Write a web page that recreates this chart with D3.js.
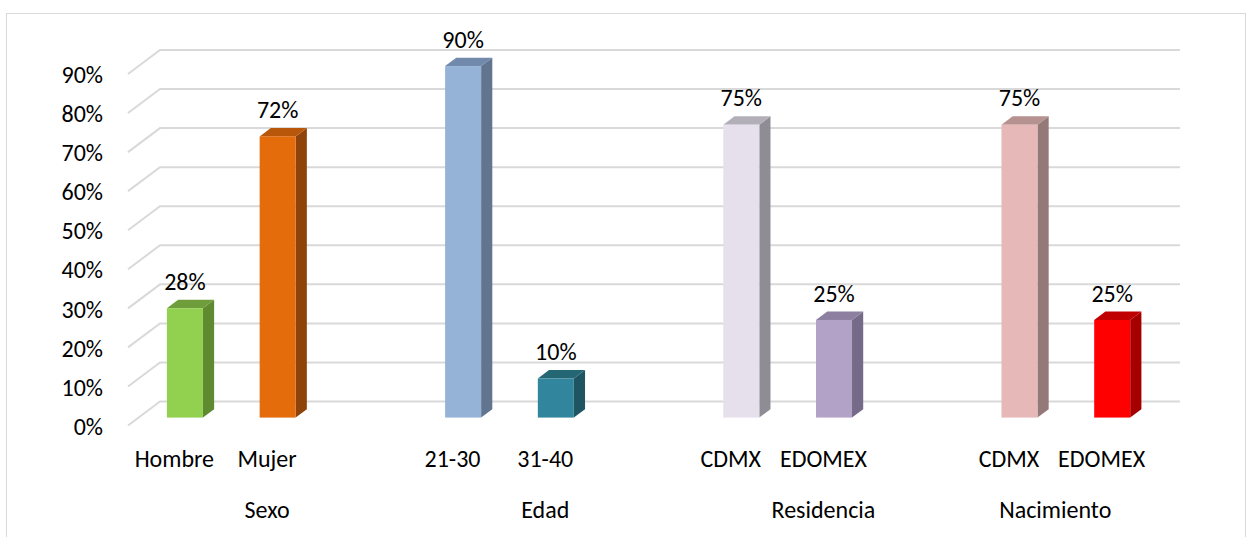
<!DOCTYPE html>
<html>
<head>
<meta charset="utf-8">
<script src="https://cdn.jsdelivr.net/npm/d3@7"></script>
<style>
  html, body { margin: 0; padding: 0; background: #ffffff; }
  svg { display: block; font-family: Carlito, Calibri, Lato, "Open Sans", sans-serif; }
</style>
</head>
<body>
<svg id="chart" width="1246" height="537"></svg>
<script>
// Survey breakdown by group (percent of respondents)
const groups = ["Sexo", "Edad", "Residencia", "Nacimiento"];
const categories = [
  ["Hombre", "Mujer"],
  ["21-30", "31-40"],
  ["CDMX", "EDOMEX"],
  ["CDMX", "EDOMEX"]
];
const values = [
  [28, 72],
  [90, 10],
  [75, 25],
  [75, 25]
];
const yTicks = [0, 10, 20, 30, 40, 50, 60, 70, 80, 90];

// Face colours per bar: [front, top, side]
const barColors = [
  [["#92d050", "#6f9d3b", "#5e8a30"], ["#e46c0a", "#b8570a", "#8f4309"]],
  [["#95b3d7", "#7189ab", "#617591"], ["#31859c", "#256675", "#1f5563"]],
  [["#e5e0ec", "#b3afb8", "#908c95"], ["#b3a2c7", "#8c7fa0", "#766a89"]],
  [["#e6b9b8", "#b59190", "#957978"], ["#ff0000", "#c00000", "#a50000"]]
];

const FONT_SIZE = 24;
const svg = d3.select("#chart");

// Outer chart frame
svg.append("rect")
  .attr("x", 6.5).attr("y", 13.5)
  .attr("width", 1239).attr("height", 540)
  .attr("fill", "none")
  .attr("stroke", "#d9d9d9")
  .attr("stroke-width", 1);

// Category slots: two bars per group, with an empty slot between groups
const slots = [];
groups.forEach((g, gi) => {
  categories[gi].forEach((c, ci) => slots.push(`${gi}-${ci}`));
  if (gi < groups.length - 1) slots.push(`${gi}-gap`);
});

const x = d3.scaleBand().domain(slots).range([128, 1148]);
const y = d3.scaleLinear().domain([0, 90]).range([425.5, 74]);

// Oblique depth of the 3D floor and walls
const DX = 32, DY = -24;
const t0 = 0.33, t1 = 0.68;   // bar front / back depth fractions
const barW = 36;

// Gridlines: short oblique segment on the side wall, then the back wall line
svg.append("g")
  .selectAll("path")
  .data(yTicks)
  .join("path")
  .attr("d", v => {
    const yf = y(v);
    return `M${x.range()[0]},${yf} L${x.range()[0] + DX},${yf + DY} L${x.range()[1] + DX},${yf + DY}`;
  })
  .attr("fill", "none")
  .attr("stroke", "#d9d9d9")
  .attr("stroke-width", 2);

// Y axis labels
const yAxis = d3.axisLeft(y)
  .tickValues(yTicks)
  .tickFormat(d => d + "%")
  .tickSize(0)
  .tickPadding(25);

const yg = svg.append("g")
  .attr("transform", `translate(${x.range()[0]},1)`)
  .call(yAxis);
yg.select(".domain").remove();
yg.selectAll("text")
  .attr("font-family", "Carlito, Calibri, Lato, sans-serif")
  .attr("font-size", FONT_SIZE)
  .attr("fill", "#000");

// Flattened bar records
const bars = [];
groups.forEach((g, gi) => {
  categories[gi].forEach((c, ci) => {
    bars.push({ key: `${gi}-${ci}`, label: c, value: values[gi][ci], colors: barColors[gi][ci] });
  });
});

const barG = svg.append("g");
bars.forEach(b => {
  const cx = x(b.key) + x.bandwidth() / 2 + t0 * DX;
  const xl = cx - barW / 2, xr = cx + barW / 2;
  const yb = y(0) + t0 * DY;
  const yt = y(b.value) + t0 * DY;
  const ddx = (t1 - t0) * DX, ddy = (t1 - t0) * DY;
  const g = barG.append("g");
  // side face
  g.append("path")
    .attr("d", `M${xr},${yb} L${xr + ddx},${yb + ddy} L${xr + ddx},${yt + ddy} L${xr},${yt} Z`)
    .attr("fill", b.colors[2]);
  // top face
  g.append("path")
    .attr("d", `M${xl},${yt} L${xr},${yt} L${xr + ddx},${yt + ddy} L${xl + ddx},${yt + ddy} Z`)
    .attr("fill", b.colors[1]);
  // front face
  g.append("rect")
    .attr("x", xl).attr("y", yt)
    .attr("width", barW).attr("height", yb - yt)
    .attr("fill", b.colors[0]);
  // value label
  g.append("text")
    .attr("x", cx)
    .attr("y", yt + ddy - 10)
    .attr("text-anchor", "middle")
    .attr("font-size", FONT_SIZE)
    .attr("fill", "#000")
    .text(b.value + "%");
});

// Category labels
svg.append("g")
  .selectAll("text")
  .data(bars)
  .join("text")
  .attr("x", d => x(d.key) + x.bandwidth() / 2)
  .attr("y", 467)
  .attr("text-anchor", "middle")
  .attr("font-size", FONT_SIZE)
  .attr("fill", "#000")
  .text(d => d.label);

// Group labels, centred across each group's slots
svg.append("g")
  .selectAll("text")
  .data(groups)
  .join("text")
  .attr("x", (g, gi) => {
    const own = slots.filter(s => s.startsWith(gi + "-"));
    const x0 = x(own[0]);
    const x1 = x(own[own.length - 1]) + x.bandwidth();
    return (x0 + x1) / 2;
  })
  .attr("y", 518)
  .attr("text-anchor", "middle")
  .attr("font-size", FONT_SIZE)
  .attr("fill", "#000")
  .text(d => d);
</script>
</body>
</html>
